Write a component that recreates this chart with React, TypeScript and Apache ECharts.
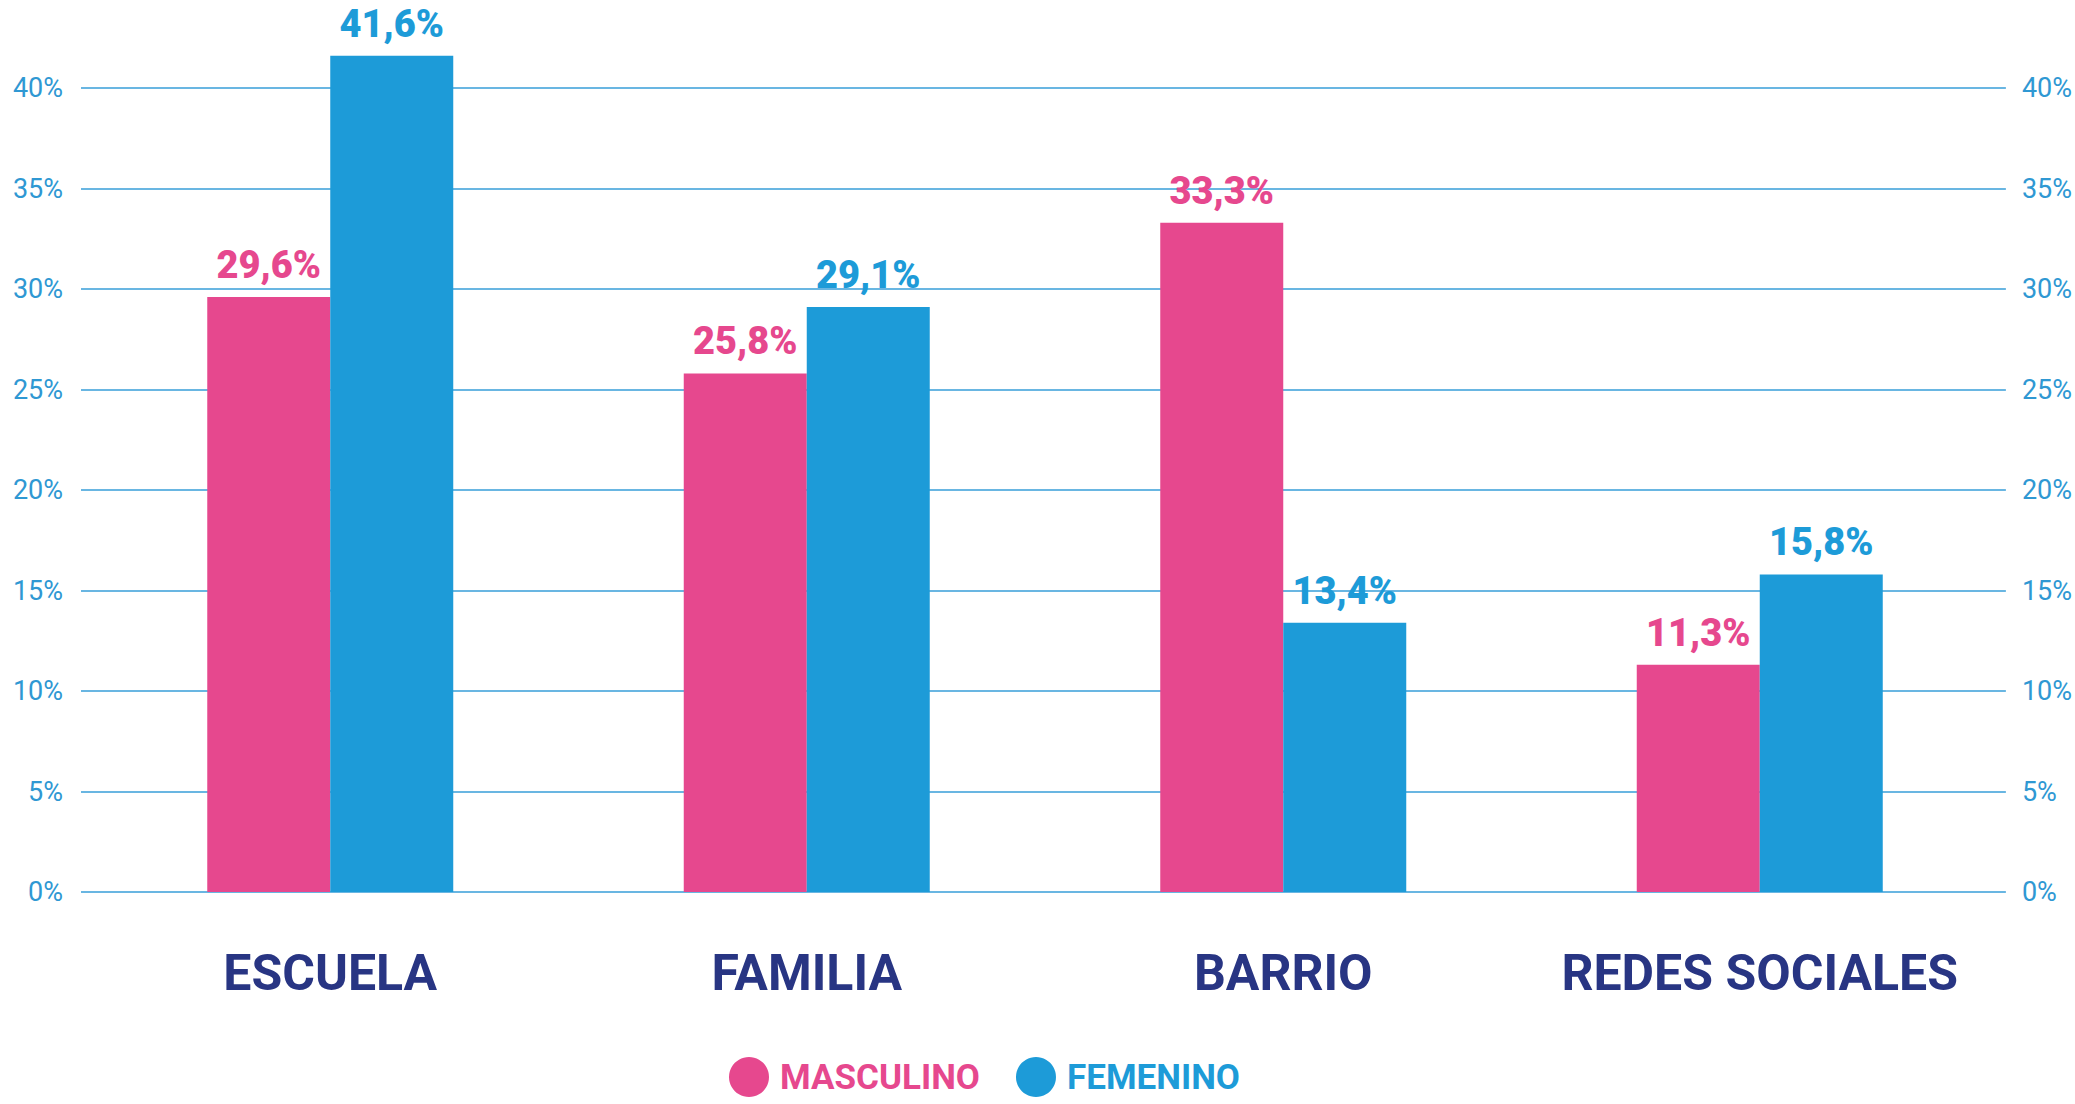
import React, { useEffect, useRef } from "react";
import * as echarts from "echarts";

const categories = ["ESCUELA", "FAMILIA", "BARRIO", "REDES SOCIALES"];
const masculino = [29.6, 25.8, 33.3, 11.3];
const femenino = [41.6, 29.1, 13.4, 15.8];
const seriesNames = ["MASCULINO", "FEMENINO"];

const PINK = "#E6488E";
const BLUE = "#1D9BD8";
const NAVY = "#283583";
const AXIS_BLUE = "#2F98D3";
const GRID_BLUE = "#69B6E2";
const FONT = "Roboto, 'Noto Sans', sans-serif";

const fmt = (v: number) => `${v.toFixed(1).replace(".", ",")}%`;

export default function App() {
  const ref = useRef<HTMLDivElement>(null);
  useEffect(() => {
    if (!ref.current) return;
    const chart = echarts.init(ref.current, undefined, { renderer: "svg" });
    const valueAxisBase = {
      type: "value" as const,
      gridIndex: 0,
      min: 0,
      max: 40,
      interval: 5,
      axisLine: { show: false },
      axisTick: { show: false },
      axisLabel: {
        formatter: "{value}%",
        color: AXIS_BLUE,
        fontFamily: FONT,
        fontSize: 27,
      },
    };
    const barLabel = (color: string) => ({
      show: true,
      position: "top" as const,
      distance: 13,
      color,
      fontFamily: FONT,
      fontWeight: 900,
      fontSize: 38,
      formatter: (p: any) => fmt(p.value),
    });
    chart.setOption({
      animation: false,
      backgroundColor: "#ffffff",
      grid: [
        { left: 81, right: 68, top: 88, bottom: 212 },
        { left: 92, right: 77, top: 88, bottom: 212 },
      ],
      legend: {
        left: 724,
        top: 1052,
        icon: "circle",
        itemWidth: 40,
        itemHeight: 40,
        itemGap: 36,
        textStyle: {
          fontFamily: FONT,
          fontWeight: "bold",
          fontSize: 35,
          lineHeight: 40,
          padding: [0, 0, 0, 6],
        },
        data: [
          { name: seriesNames[0], textStyle: { color: PINK } },
          { name: seriesNames[1], textStyle: { color: BLUE } },
        ],
      },
      xAxis: [
        {
          type: "category",
          gridIndex: 0,
          data: categories,
          show: false,
        },
        {
          type: "category",
          gridIndex: 1,
          data: categories,
          axisLine: { show: false },
          axisTick: { show: false },
          axisLabel: {
            interval: 0,
            margin: 56,
            color: NAVY,
            fontFamily: FONT,
            fontWeight: "bold",
            fontSize: 50,
          },
        },
      ],
      yAxis: [
        {
          ...valueAxisBase,
          position: "left",
          axisLabel: { ...valueAxisBase.axisLabel, margin: 18 },
          splitLine: { show: true, lineStyle: { color: GRID_BLUE, width: 2 } },
        },
        {
          ...valueAxisBase,
          position: "right",
          axisLabel: { ...valueAxisBase.axisLabel, margin: 16 },
          splitLine: { show: false },
        },
        {
          type: "value",
          gridIndex: 1,
          min: 0,
          max: 40,
          interval: 5,
          show: false,
          splitLine: { show: false },
        },
      ],
      series: [
        {
          name: seriesNames[0],
          type: "bar",
          xAxisIndex: 1,
          yAxisIndex: 2,
          data: masculino,
          barWidth: 123,
          barGap: "0%",
          clip: false,
          itemStyle: { color: PINK },
          label: barLabel(PINK),
        },
        {
          name: seriesNames[1],
          type: "bar",
          xAxisIndex: 1,
          yAxisIndex: 2,
          data: femenino,
          barWidth: 123,
          barGap: "0%",
          clip: false,
          itemStyle: { color: BLUE },
          label: barLabel(BLUE),
        },
      ],
    });
    return () => chart.dispose();
  }, []);
  return (
    <div
      ref={ref}
      style={{ position: "absolute", left: 0, top: 0, width: 2075, height: 1104 }}
    />
  );
}
